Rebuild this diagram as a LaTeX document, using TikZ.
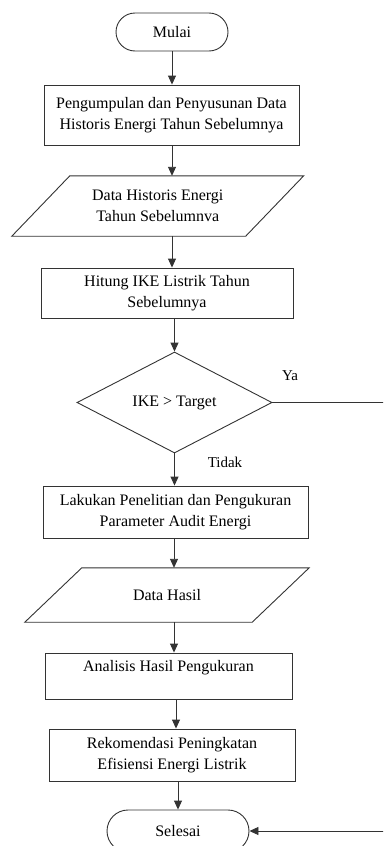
\documentclass[tikz,border=0pt]{standalone}
\usepackage{fontspec}
\setmainfont{Liberation Serif}
\usetikzlibrary{arrows.meta,shapes.geometric,shapes.misc}
\begin{document}
\begin{tikzpicture}[x=1pt,y=-1pt,
  txt/.style={font=\fontsize{16}{21}\selectfont, align=center, inner sep=0pt},
  line/.style={draw=black!80, line width=0.9pt},
  arr/.style={line, -{Triangle[width=8pt,length=9pt]}},
  proc/.style={txt, rectangle, line},
  term/.style={txt, rounded rectangle, line},
  io/.style={txt, rectangle},
  dec/.style={txt, diamond, line},
  lbl/.style={font=\fontsize{15}{17}\selectfont, inner sep=0pt}
]
\useasboundingbox (0,0) rectangle (383,846);
\clip (0,0) rectangle (383,846);

% nodes
\node[term, minimum width=112pt, minimum height=38pt] (m) at (172,32) {Mulai};
\node[proc, minimum width=255pt, minimum height=60pt] (b1) at (171.5,115)
  {Pengumpulan dan Penyusunan Data\\Historis Energi Tahun Sebelumnya};
\node[io, minimum width=233.5pt, minimum height=60pt] (p1) at (157.75,206)
  {Data Historis Energi\\Tahun Sebelumnva};
\draw[line] ([xshift=29pt]p1.north west) -- ([xshift=29pt]p1.north east)
  -- ([xshift=-29pt]p1.south east) -- ([xshift=-29pt]p1.south west) -- cycle;
\node[proc, minimum width=252pt, minimum height=50pt] (b2) at (167,293)
  {Hitung IKE Listrik Tahun\\Sebelumnya};
\node[dec, minimum width=195pt, minimum height=101pt] (d) at (174.5,402.5) {IKE > Target};
\node[proc, minimum width=265pt, minimum height=52pt] (b3) at (175.5,512)
  {Lakukan Penelitian dan Pengukuran\\Parameter Audit Energi};
\node[io, minimum width=227pt, minimum height=54pt] (p2) at (167,595) {Data Hasil};
\draw[line] ([xshift=28.5pt]p2.north west) -- ([xshift=28.5pt]p2.north east)
  -- ([xshift=-28.5pt]p2.south east) -- ([xshift=-28.5pt]p2.south west) -- cycle;
\node[proc, minimum width=247pt, minimum height=46pt] (b4) at (168.5,676)
  {Analisis Hasil Pengukuran\\\mbox{}};
\node[proc, minimum width=246pt, minimum height=52pt] (b5) at (172,755)
  {Rekomendasi Peningkatan\\Efisiensi Energi Listrik};
\node[term, minimum width=142pt, minimum height=42pt] (s) at (178,831) {Selesai};

\node[lbl] (ya) at (290,376) {Ya};
\node[lbl] (tidak) at (225,462) {Tidak};

% arrow columns
\coordinate (c1) at (172,0);
\coordinate (c2) at (174,0);
\coordinate (c3) at (176,0);
\coordinate (c4) at (178,0);
\coordinate (rt) at (384,0);

\draw[arr] (m.south -| c1) -- (b1.north -| c1);
\draw[arr] (b1.south -| c1) -- (p1.north -| c1);
\draw[arr] (p1.south -| c1) -- (b2.north -| c1);
\draw[arr] (b2.south -| d.north) -- (d.north);
\draw[arr] (d.south) -- (b3.north -| d.south);
\draw[arr] (b3.south -| c2) -- (p2.north -| c2);
\draw[arr] (p2.south -| c2) -- (b4.north -| c2);
\draw[arr] (b4.south -| c3) -- (b5.north -| c3);
\draw[arr] (b5.south -| c4) -- (s.north -| c4);
\draw[line] (d.east) -- (d.east -| rt);
\draw[arr] (s.east -| rt) -- (s.east);
\end{tikzpicture}
\end{document}
